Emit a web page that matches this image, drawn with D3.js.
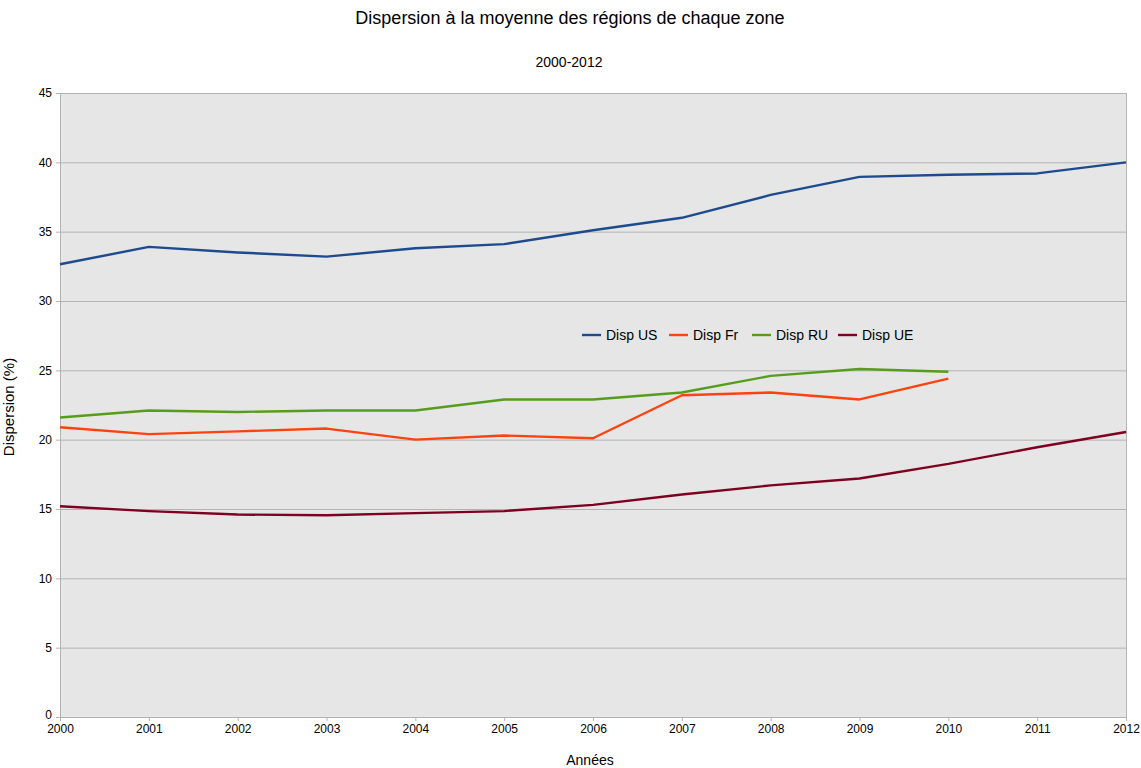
<!DOCTYPE html>
<html>
<head>
<meta charset="utf-8">
<script src="https://cdn.jsdelivr.net/npm/d3@7"></script>
<style>
  body { margin: 0; background: #fff; }
  svg { font-family: "Liberation Sans", Arial, sans-serif; }
</style>
</head>
<body>
<div id="chart"></div>
<script>
// Chart data
const years = [2000, 2001, 2002, 2003, 2004, 2005, 2006, 2007, 2008, 2009, 2010, 2011, 2012];
const dispUS = [32.65, 33.9, 33.5, 33.2, 33.8, 34.1, 35.1, 36.0, 37.65, 38.95, 39.1, 39.2, 40.0];
const dispFr = [20.9, 20.4, 20.6, 20.8, 20.0, 20.3, 20.1, 23.2, 23.4, 22.9, 24.4];
const dispRU = [21.6, 22.1, 22.0, 22.1, 22.1, 22.9, 22.9, 23.4, 24.6, 25.1, 24.9];
const dispUE = [15.2, 14.85, 14.6, 14.55, 14.7, 14.85, 15.3, 16.05, 16.7, 17.2, 18.25, 19.45, 20.55];
const yTicks = [0, 5, 10, 15, 20, 25, 30, 35, 40, 45];

const series = [
  {name: "Disp US", values: dispUS, color: "#1d4b8d"},
  {name: "Disp Fr", values: dispFr, color: "#ff420e"},
  {name: "Disp RU", values: dispRU, color: "#579d1c"},
  {name: "Disp UE", values: dispUE, color: "#7e0021"}
];

const width = 1141, height = 768;
const margin = {top: 93, right: 15, bottom: 51, left: 60};
const plotW = width - margin.left - margin.right;
const plotH = height - margin.top - margin.bottom;

const svg = d3.select("#chart").append("svg")
  .attr("width", width)
  .attr("height", height);

const x = d3.scaleLinear().domain([2000, 2012]).range([0, plotW]);
const y = d3.scaleLinear().domain([0, 45]).range([plotH, 0]);

const g = svg.append("g")
  .attr("transform", `translate(${margin.left},${margin.top})`);

// Plot background
g.append("rect")
  .attr("width", plotW)
  .attr("height", plotH)
  .attr("fill", "#e6e6e6");

// Horizontal grid lines
g.append("g")
  .selectAll("line")
  .data(yTicks)
  .join("line")
  .attr("x1", 0)
  .attr("x2", plotW)
  .attr("y1", d => y(d) + 0.5)
  .attr("y2", d => y(d) + 0.5)
  .attr("stroke", "#b3b3b3")
  .attr("stroke-width", 1);

// Right border
g.append("line")
  .attr("x1", plotW + 0.5).attr("x2", plotW + 0.5)
  .attr("y1", 0).attr("y2", plotH)
  .attr("stroke", "#b3b3b3");

// Y axis
const yAxis = g.append("g")
  .call(d3.axisLeft(y).tickValues(yTicks).tickSize(4).tickPadding(4).tickFormat(d3.format("d")));
yAxis.select(".domain").attr("stroke", "#b3b3b3");
yAxis.selectAll(".tick line").attr("stroke", "#b3b3b3");
yAxis.selectAll("text")
  .attr("font-size", "12px")
  .attr("font-family", "'Liberation Sans', Arial, sans-serif")
  .attr("fill", "#000");
// lift the "0" label a touch so it clears the first year label
yAxis.selectAll(".tick text").filter(d => d === 0).attr("dy", "0.1em");

// X axis
const xAxis = g.append("g")
  .attr("transform", `translate(0,${plotH})`)
  .call(d3.axisBottom(x).tickValues(years).tickSize(4).tickPadding(3).tickFormat(d3.format("d")));
xAxis.select(".domain").attr("stroke", "#b3b3b3");
xAxis.selectAll(".tick line").attr("stroke", "#b3b3b3");
xAxis.selectAll("text")
  .attr("font-size", "12px")
  .attr("font-family", "'Liberation Sans', Arial, sans-serif")
  .attr("fill", "#000");

// Series lines
const line = d3.line()
  .x((d, i) => x(years[i]))
  .y(d => y(d));

g.append("g")
  .selectAll("path")
  .data(series)
  .join("path")
  .attr("d", d => line(d.values))
  .attr("fill", "none")
  .attr("stroke", d => d.color)
  .attr("stroke-width", 2.4)
  .attr("stroke-linejoin", "round");

// Legend
const legendX = [582, 669, 752, 838];
const legend = svg.append("g")
  .selectAll("g")
  .data(series)
  .join("g")
  .attr("transform", (d, i) => `translate(${legendX[i]},335)`);

legend.append("line")
  .attr("x1", 0).attr("x2", 19)
  .attr("y1", 0).attr("y2", 0)
  .attr("stroke", d => d.color)
  .attr("stroke-width", 2.4);

legend.append("text")
  .attr("x", 24)
  .attr("y", 5)
  .attr("font-size", "14px")
  .attr("fill", "#000")
  .text(d => d.name);

// Titles
svg.append("text")
  .attr("x", 570)
  .attr("y", 24)
  .attr("text-anchor", "middle")
  .attr("font-size", "18px")
  .attr("fill", "#000")
  .text("Dispersion à la moyenne des régions de chaque zone");

svg.append("text")
  .attr("x", 569)
  .attr("y", 67)
  .attr("text-anchor", "middle")
  .attr("font-size", "14px")
  .attr("fill", "#000")
  .text("2000-2012");

svg.append("text")
  .attr("x", 590)
  .attr("y", 765)
  .attr("text-anchor", "middle")
  .attr("font-size", "14px")
  .attr("fill", "#000")
  .text("Années");

svg.append("text")
  .attr("transform", "translate(14,407) rotate(-90)")
  .attr("text-anchor", "middle")
  .attr("font-size", "15px")
  .attr("fill", "#000")
  .text("Dispersion (%)");
</script>
</body>
</html>
